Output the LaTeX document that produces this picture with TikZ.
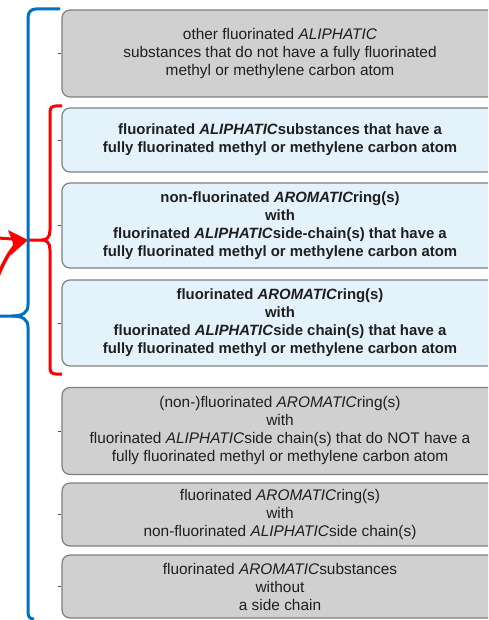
\documentclass[tikz,border=0pt]{standalone}
\usepackage{fontspec}
\setmainfont{Liberation Sans}
\usetikzlibrary{arrows.meta}
\definecolor{boxgray}{HTML}{D0D0D0}
\definecolor{boxblue}{HTML}{E4F2FC}
\definecolor{edgegray}{HTML}{7F7F7F}
\definecolor{braceblue}{HTML}{0070C0}
\definecolor{bracered}{HTML}{FF0000}
\begin{document}
\begin{tikzpicture}[x=1pt,y=-1pt,
  catbox/.style={draw=edgegray, line width=1.2pt, rounded corners=8pt,
    minimum width=436pt, align=center, inner sep=0pt, text=black!88},
  plainbox/.style={catbox, fill=boxgray, font=\fontsize{15.4}{18}\selectfont},
  keybox/.style={catbox, fill=boxblue, font=\fontsize{14.9}{18}\selectfont\bfseries},
  stub/.style={draw=black!70, line width=0.8pt},
  bluebrace/.style={draw=braceblue, line width=3pt, line join=round},
  redbrace/.style={draw=bracered, line width=3pt, line join=round}]
\useasboundingbox (0,0) rectangle (488,620);
\clip (0,0) rectangle (488,620);

% category boxes
\node[plainbox, minimum height=87pt] (b1) at (280,53.5)
  {other fluorinated \textit{ALIPHATIC}\\substances that do not have a fully fluorinated\\methyl or methylene carbon atom};
\node[keybox, minimum height=64pt] (b2) at (280,140)
  {fluorinated \textit{ALIPHATIC}substances that have a\\fully fluorinated methyl or methylene carbon atom};
\node[keybox, minimum height=85pt] (b3) at (280,225.5)
  {non-fluorinated \textit{AROMATIC}ring(s)\\with\\fluorinated \textit{ALIPHATIC}side-chain(s) that have a\\fully fluorinated methyl or methylene carbon atom};
\node[keybox, minimum height=86pt] (b4) at (280,323)
  {fluorinated \textit{AROMATIC}ring(s)\\with\\fluorinated \textit{ALIPHATIC}side chain(s) that have a\\fully fluorinated methyl or methylene carbon atom};
\node[plainbox, minimum height=87pt] (b5) at (280,431)
  {(non-)fluorinated \textit{AROMATIC}ring(s)\\with\\fluorinated \textit{ALIPHATIC}side chain(s) that do NOT have a\\fully fluorinated methyl or methylene carbon atom};
\node[plainbox, minimum height=63pt] (b6) at (280,514.5)
  {fluorinated \textit{AROMATIC}ring(s)\\with\\non-fluorinated \textit{ALIPHATIC}side chain(s)};
\node[plainbox, minimum height=63pt] (b7) at (280,586.5)
  {fluorinated \textit{AROMATIC}substances\\without\\a side chain};

% short stubs at the left of each box
\foreach \b in {b1,b2,b3,b4,b5,b6,b7}
  \draw[stub] (\b.west) -- ++(-3,0);

\coordinate (cusp) at (28,240);

% red brace around the fully fluorinated groups
\draw[redbrace] (62,106) -- (56,106) .. controls (52,106) and (50,108) .. (50,112)
  -- (50,230) .. controls (50,237) and (47,240) .. (42,240) -- (cusp);
\draw[redbrace] (42,240) .. controls (47,240) and (50,243) .. (50,250)
  -- (50,368) .. controls (50,372) and (52,374) .. (56,374) -- (62,374);

% red arrow pointing at the brace
\draw[redbrace] (-2,238) -- (12,239);
\draw[redbrace, line width=3.5pt] (-2,276) .. controls (3,264) and (8,254) .. (14,247);
\fill[bracered] (cusp) -- (8,230) -- (13,243) -- (11,255) -- cycle;

% blue brace around all groups
\draw[bluebrace] (60,9) -- (36,9) .. controls (31,9) and (28,12) .. (28,18)
  -- (28,305) .. controls (28,313) and (22,316) .. (12,316) -- (-2,316);
\draw[bluebrace] (12,316) .. controls (22,316) and (28,319) .. (28,327)
  -- (28,612) .. controls (28,617) and (30,619) .. (34,619);
\end{tikzpicture}
\end{document}
